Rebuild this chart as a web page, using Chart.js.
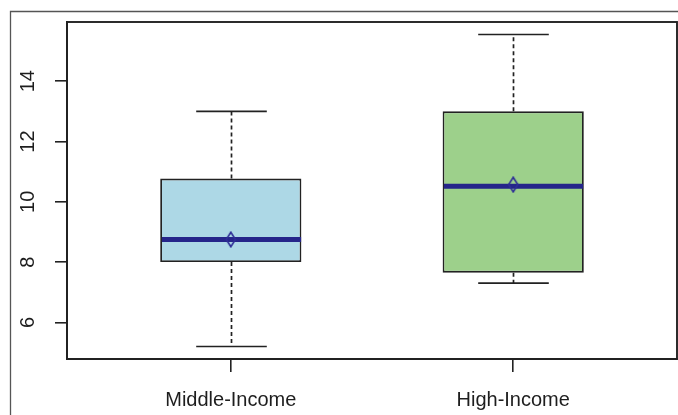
<!DOCTYPE html>
<html>
<head>
<meta charset="utf-8">
<script src="https://cdn.jsdelivr.net/npm/chart.js@4.4.1/dist/chart.umd.min.js"></script>
<style>
  html, body { margin: 0; padding: 0; background: #ffffff; }
  canvas { display: block; }
</style>
</head>
<body>
<canvas id="c" width="678" height="415"></canvas>
<script>
// Five-number summaries per income group, plus the group mean
const categories  = ['Middle-Income', 'High-Income'];
const whiskerLow  = [5.2, 7.3];
const q1          = [8.0, 7.65];
const median      = [8.75, 10.52];
const q3          = [10.77, 13.0];
const whiskerHigh = [13.0, 15.55];
const means       = [8.75, 10.57];
const yTicks      = [6, 8, 10, 12, 14];

const boxColors = ['#add8e6', '#9dd08b'];
const ink = '#222222';
const font = "'Liberation Sans', Arial, sans-serif";

// Axis limits extended 4% beyond the data, the usual boxplot convention
const lo = Math.min(...whiskerLow), hi = Math.max(...whiskerHigh);
const yPad = 0.04 * (hi - lo);
const xPad = 0.04 * categories.length;

// Hollow diamond marker for the means
function diamond() {
  const c = document.createElement('canvas');
  c.width = 12; c.height = 17;
  const g = c.getContext('2d');
  g.strokeStyle = '#2e2e96';
  g.lineWidth = 1.6;
  g.beginPath();
  g.moveTo(6, 1.2); g.lineTo(10.6, 8.5); g.lineTo(6, 15.8); g.lineTo(1.4, 8.5); g.closePath();
  g.stroke();
  return c;
}

// Whiskers, caps and median line, drawn right after the boxes
const boxParts = {
  id: 'boxParts',
  afterDatasetDraw(chart, args) {
    if (args.index !== 0) return;
    const { ctx, scales: { x, y } } = chart;
    const meta = chart.getDatasetMeta(0);
    ctx.save();
    meta.data.forEach((bar, i) => {
      const cx = Math.round(x.getPixelForValue(i + 1)) + 0.5;
      const half = bar.width / 2;
      const pLo = y.getPixelForValue(whiskerLow[i]);
      const pHi = y.getPixelForValue(whiskerHigh[i]);
      const pQ1 = y.getPixelForValue(q1[i]);
      const pQ3 = y.getPixelForValue(q3[i]);
      ctx.strokeStyle = ink;
      ctx.lineWidth = 1.7;
      ctx.setLineDash([4, 3]);
      ctx.beginPath();
      ctx.moveTo(cx, pQ3); ctx.lineTo(cx, pHi);
      ctx.moveTo(cx, pQ1); ctx.lineTo(cx, pLo);
      ctx.stroke();
      ctx.setLineDash([]);
      ctx.beginPath();
      ctx.moveTo(cx - half / 2, pHi); ctx.lineTo(cx + half / 2, pHi);
      ctx.moveTo(cx - half / 2, pLo); ctx.lineTo(cx + half / 2, pLo);
      ctx.stroke();
      const pMed = y.getPixelForValue(median[i]);
      ctx.strokeStyle = '#25258a';
      ctx.lineWidth = 5;
      ctx.beginPath();
      ctx.moveTo(cx - half + 1, pMed); ctx.lineTo(cx + half - 1, pMed);
      ctx.stroke();
    });
    ctx.restore();
  }
};

// Plot frame and the outer panel border
const frames = {
  id: 'frames',
  beforeDraw(chart) {
    const ctx = chart.ctx;
    ctx.save();
    ctx.fillStyle = '#ffffff';
    ctx.fillRect(0, 0, chart.width, chart.height);
    ctx.strokeStyle = '#555555';
    ctx.lineWidth = 1.3;
    ctx.beginPath();
    ctx.moveTo(10.5, chart.height); ctx.lineTo(10.5, 11.5); ctx.lineTo(chart.width, 11.5);
    ctx.stroke();
    ctx.restore();
  },
  afterDraw(chart) {
    const { ctx, chartArea: a } = chart;
    ctx.save();
    ctx.strokeStyle = ink;
    ctx.lineWidth = 1.9;
    ctx.strokeRect(a.left, a.top, a.right - a.left, a.bottom - a.top);
    ctx.restore();
  }
};

new Chart(document.getElementById('c'), {
  data: {
    datasets: [
      {
        type: 'bar',
        order: 2,
        data: categories.map((_, i) => ({ x: i + 1, y: [q1[i], q3[i]] })),
        backgroundColor: boxColors,
        borderColor: ink,
        borderWidth: 1.8,
        borderSkipped: false,
        barPercentage: 0.5,
        categoryPercentage: 1.0
      },
      {
        type: 'scatter',
        order: 1,
        data: categories.map((_, i) => ({ x: i + 1, y: means[i] })),
        pointStyle: diamond(),
        pointRadius: 6
      }
    ]
  },
  options: {
    responsive: false,
    animation: false,
    devicePixelRatio: 1,
    layout: { autoPadding: false, padding: { top: 22, right: 1, left: 0, bottom: 0 } },
    plugins: { legend: { display: false }, tooltip: { enabled: false } },
    scales: {
      x: {
        type: 'linear',
        offset: false,
        bounds: 'data',
        min: 0.5 - xPad,
        max: categories.length + 0.5 + xPad,
        afterBuildTicks: s => { s.ticks = categories.map((_, i) => ({ value: i + 1 })); },
        afterFit: s => { s.height = 56; s.paddingLeft = 0; s.paddingRight = 0; },
        grid: { display: true, offset: false, drawOnChartArea: false, drawTicks: true, tickLength: 13, color: ink, lineWidth: 1.6 },
        border: { display: true, color: ink, width: 1.9 },
        ticks: {
          autoSkip: false, maxRotation: 0, minRotation: 0, padding: 16,
          color: '#1e1e1e', font: { family: font, size: 20 },
          callback: v => categories[v - 1]
        }
      },
      y: {
        type: 'linear',
        min: lo - yPad,
        max: hi + yPad,
        afterBuildTicks: s => { s.ticks = yTicks.map(v => ({ value: v })); },
        afterFit: s => { s.width = 67; s.paddingTop = 0; s.paddingBottom = 0; },
        grid: { display: true, drawOnChartArea: false, drawTicks: true, tickLength: 12, color: ink, lineWidth: 1.6 },
        border: { display: true, color: ink, width: 1.9 },
        ticks: {
          minRotation: 90, maxRotation: 90, crossAlign: 'center', padding: 15,
          color: '#1e1e1e', font: { family: font, size: 20 }
        }
      }
    }
  },
  plugins: [frames, boxParts]
});
</script>
</body>
</html>
